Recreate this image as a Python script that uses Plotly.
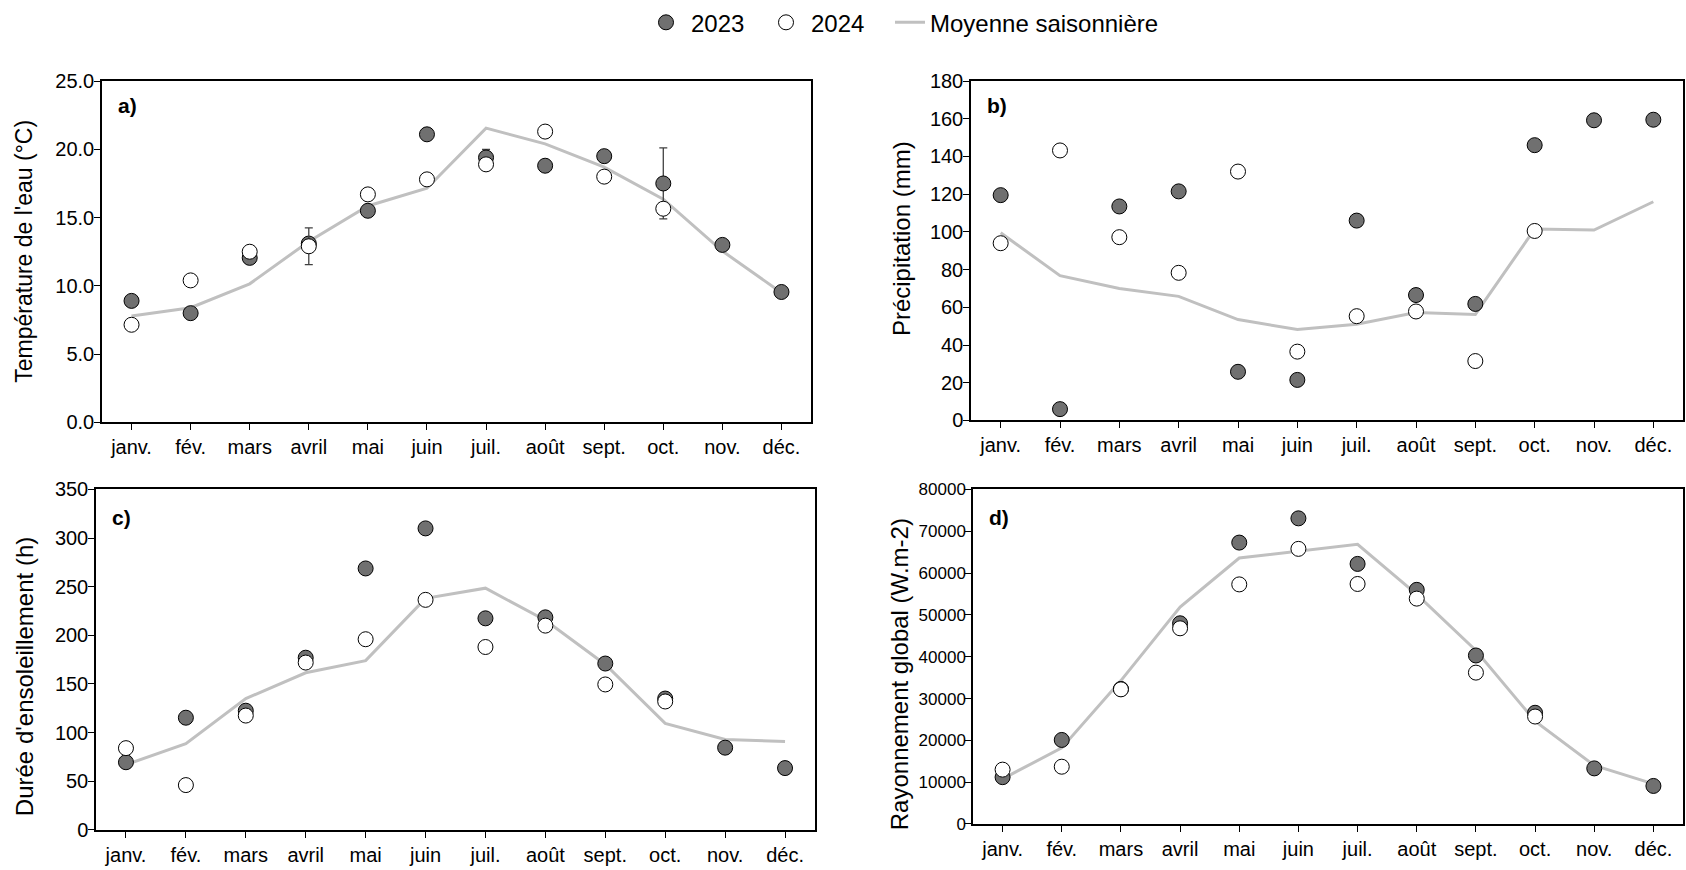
import plotly.graph_objects as go

W, H = 1686, 870

months = ["janv.", "fév.", "mars", "avril", "mai", "juin", "juil.", "août", "sept.", "oct.", "nov.", "déc."]
xi = list(range(12))

# a) Température de l'eau (°C)
temp_2023 = [8.9, 8.0, 12.05, 13.1, 15.5, 21.1, 19.4, 18.8, 19.5, 17.5, 13.0, 9.55]
temp_2024 = [7.15, 10.4, 12.5, 12.9, 16.7, 17.8, 18.9, 21.3, 18.0, 15.65, None, None]
temp_mean = [7.8, 8.4, 10.15, 13.25, 15.85, 17.15, 21.55, 20.4, 18.7, 16.35, 12.55, 9.5]
temp_err_2023 = [0, 0, 0, 0, 0, 0, 0.6, 0, 0, 2.6, 0, 0]
temp_err_2024 = [0, 0, 0, 1.35, 0, 0, 0, 0, 0, 0, 0, 0]

# b) Précipitation (mm)
prec_2023 = [119.5, 6.0, 113.5, 121.5, 25.8, 21.5, 106.0, 66.5, 61.8, 146.0, 159.2, 159.5]
prec_2024 = [94.0, 143.2, 97.2, 78.3, 132.0, 36.5, 55.3, 57.8, 31.5, 100.5, None, None]
prec_mean = [99.5, 76.8, 70.0, 65.8, 53.5, 48.2, 51.0, 57.2, 56.2, 101.5, 101.0, 116.0]

# c) Durée d'ensoleillement (h)
sun_2023 = [69.5, 115.3, 122.5, 177.0, 268.8, 310.0, 217.5, 218.5, 171.0, 135.0, 84.5, 63.5]
sun_2024 = [84.0, 46.0, 117.5, 172.0, 196.0, 236.5, 188.0, 210.0, 149.5, 132.0, None, None]
sun_mean = [67.0, 88.5, 135.0, 161.5, 174.0, 238.0, 248.5, 215.5, 170.0, 109.5, 93.0, 90.8]

# d) Rayonnement global (W.m-2)
rad_2023 = [11200, 20100, 32300, 48000, 67300, 73100, 62200, 56000, 40300, 26600, 13300, 9100]
rad_2024 = [13000, 13700, 32200, 46800, 57300, 65800, 57400, 53900, 36200, 25700, None, None]
rad_mean = [10800, 18200, 34300, 51900, 63600, 65200, 66900, 54900, 41500, 24600, 14000, 9600]

FONT = "Liberation Sans, Arial, sans-serif"
DARK = "#707070"
LINEC = "#c0c0c0"

# panel boxes in pixels: (left, right, top, bottom)
boxes = {
    "a": (102, 811, 70, 421),
    "b": (971, 1683, 70, 419),
    "c": (96, 815, 490, 840),
    "d": (973, 1683, 490, 834),
}

# key, 2023, 2024, mean, y-range, dtick, format, title, err23, err24, title x, title y-shift, title size, label dy, ytick size
panels = [
    ("a", temp_2023, temp_2024, temp_mean, [0, 25], 5, ".1f", "Température de l'eau (°C)", temp_err_2023, temp_err_2024, 24, 0, 23, 25, 20),
    ("b", prec_2023, prec_2024, prec_mean, [0, 180], 20, "d", "Précipitation (mm)", None, None, 901, -12, 24, 25, 20),
    ("c", sun_2023, sun_2024, sun_mean, [0, 350], 50, "d", "Durée d'ensoleillement (h)", None, None, 24, 18, 24, 29, 20),
    ("d", rad_2023, rad_2024, rad_mean, [0, 80000], 10000, "d", "Rayonnement global (W.m-2)", None, None, 899, 18, 24, 29, 17),
]

fig = go.Figure()
legend_y = 1 - 10 / H
layout = dict(
    width=W, height=H,
    margin=dict(l=0, r=0, t=0, b=0),
    paper_bgcolor="white", plot_bgcolor="white",
    font=dict(family=FONT, size=20, color="black"),
    showlegend=True,
    legend=dict(orientation="h", x=641 / W, xanchor="left", y=legend_y, yanchor="middle",
                font=dict(size=24, family=FONT), bgcolor="rgba(0,0,0,0)", itemwidth=40,
                entrywidth=65, entrywidthmode="pixels", traceorder="normal"),
    legend2=dict(orientation="h", x=890 / W, xanchor="left", y=legend_y, yanchor="middle",
                 font=dict(size=24, family=FONT), bgcolor="rgba(0,0,0,0)", itemwidth=30),
)
annotations = []

for k, (key, s23, s24, smean, yr, dt, fmt, ytitle, e23, e24, tx, tdy, tsize, ldy, ysize) in enumerate(panels):
    n = "" if k == 0 else str(k + 1)
    xa, ya = "x" + n, "y" + n
    L, R, T, B = boxes[key]
    first = (k == 0)
    fig.add_trace(go.Scatter(
        x=xi, y=smean, mode="lines", line=dict(color=LINEC, width=3),
        name="Moyenne saisonnière", legend="legend2", showlegend=first, xaxis=xa, yaxis=ya))
    fig.add_trace(go.Scatter(
        x=xi, y=s23, mode="markers", name="2023", legendrank=1, showlegend=first,
        marker=dict(size=15, color=DARK, line=dict(color="black", width=1)),
        error_y=dict(type="data", array=e23, visible=e23 is not None, color="#404040", thickness=1.3, width=4),
        xaxis=xa, yaxis=ya))
    fig.add_trace(go.Scatter(
        x=xi, y=s24, mode="markers", name="2024", legendrank=2, showlegend=first,
        marker=dict(size=15, color="white", line=dict(color="black", width=1)),
        error_y=dict(type="data", array=e24, visible=e24 is not None, color="#404040", thickness=1.3, width=4),
        xaxis=xa, yaxis=ya))

    axkw = dict(showline=True, mirror=True, linecolor="black", linewidth=1.5,
                ticks="outside", ticklen=6, tickwidth=1.3, tickcolor="black",
                showgrid=False, zeroline=False)
    layout["xaxis" + n] = dict(domain=[L / W, R / W], anchor=ya, range=[-0.5, 11.5],
                                tickvals=xi, ticktext=months, tickfont=dict(size=20, family=FONT), **axkw)
    layout["yaxis" + n] = dict(domain=[1 - B / H, 1 - T / H], anchor=xa, range=yr,
                                dtick=dt, tick0=0, tickformat=fmt, ticklabelstandoff=-4,
                                tickfont=dict(size=ysize, family=FONT), **axkw)
    annotations.append(dict(text="<b>" + key + ")</b>", xref="paper", yref="paper",
                            x=(L + 14) / W, y=1 - (T + ldy) / H, xanchor="left", yanchor="middle",
                            showarrow=False, font=dict(size=21, family=FONT)))
    annotations.append(dict(text=ytitle, xref="paper", yref="paper", textangle=-90,
                            x=tx / W, y=1 - ((T + B) / 2 + tdy) / H, xanchor="center", yanchor="middle",
                            showarrow=False, font=dict(size=tsize, family=FONT)))

layout["annotations"] = annotations
fig.update_layout(**layout)
fig.write_html("out.html",
               post_script="document.body.style.margin='0';document.body.style.padding='0';"
                           "document.documentElement.style.overflow='hidden';")
